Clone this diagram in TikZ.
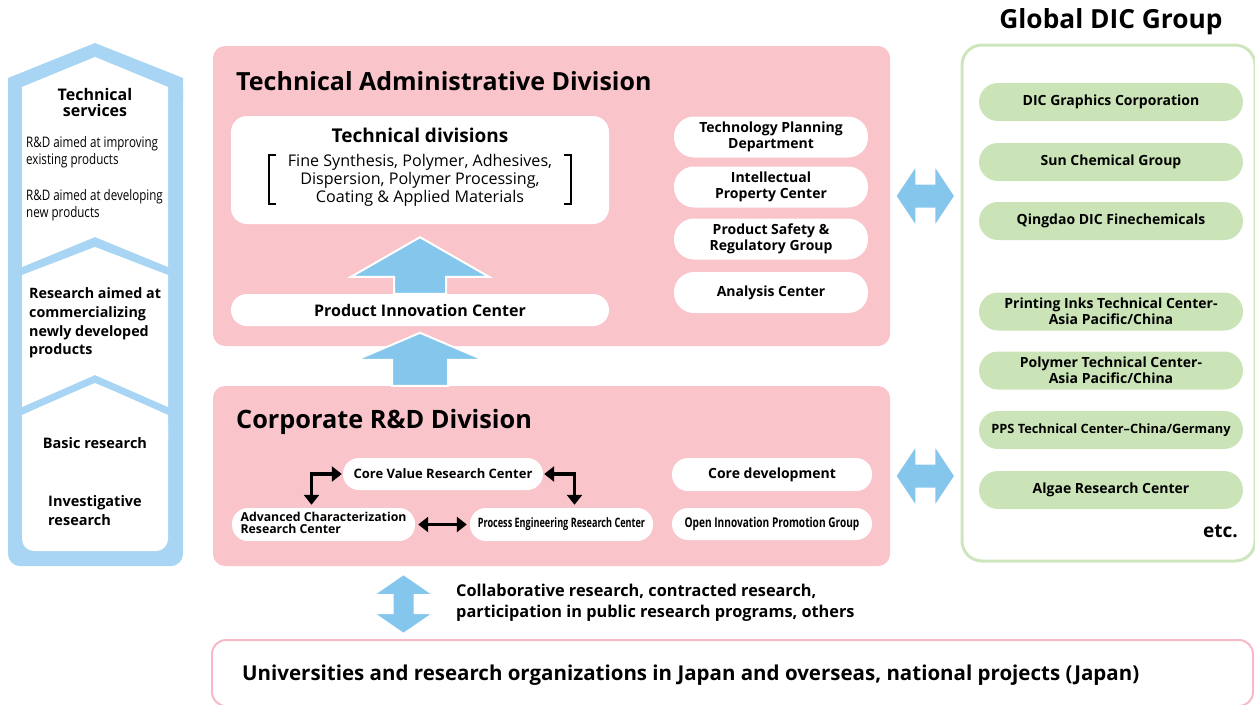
\documentclass[tikz,border=0pt]{standalone}
\usepackage{fontspec}
\setmainfont{Open Sans}
\newfontfamily\condfont[FakeStretch=0.8]{Open Sans}
\newfontfamily\condfontb[FakeStretch=0.7]{Open Sans}
\newfontfamily\condfontc[FakeStretch=0.75]{Open Sans}
\usetikzlibrary{arrows.meta,calc}
\definecolor{pinkfill}{RGB}{250,196,203}
\definecolor{pinkline}{RGB}{247,185,198}
\definecolor{colblue}{RGB}{168,213,243}
\definecolor{arrblue}{RGB}{133,198,237}
\definecolor{grnfill}{RGB}{202,228,183}
\definecolor{grnline}{RGB}{206,230,189}
\newcommand{\fs}[2]{\fontsize{#1}{#2}\selectfont}
\begin{document}
\begin{tikzpicture}[x=1pt,y=-1pt,
  pinkbox/.style={fill=pinkfill, rounded corners=12, inner sep=0},
  wnode/.style={fill=white, inner sep=0, align=center},
  gnode/.style={fill=grnfill, inner sep=0, align=center, rounded corners=19, minimum width=264, minimum height=38, font=\fs{14}{16}\bfseries},
  rpill/.style={wnode, rounded corners=20, minimum width=194, minimum height=41, font=\fs{14}{16}\bfseries},
  bpill/.style={wnode, rounded corners=16, minimum height=32},
  blk/.style={line width=3.8, {Triangle[length=10,width=15]}-{Triangle[length=10,width=15]}},
  blockarrow/.style={fill=arrblue, draw=white, line width=2, line join=miter},
  dblh/.pic={\path[blockarrow] (-30,0) -- (-9,-31.5) -- (-9,-12.5) -- (9,-12.5) -- (9,-31.5) -- (30,0) -- (9,31.5) -- (9,12.5) -- (-9,12.5) -- (-9,31.5) -- cycle;},
  dblv/.pic={\path[blockarrow] (0,-30) -- (30.5,-9) -- (11,-9) -- (11,9) -- (30.5,9) -- (0,30) -- (-30.5,9) -- (-11,9) -- (-11,-9) -- (-30.5,-9) -- cycle;},
  ttl/.style={anchor=west, inner sep=0, font=\fs{25}{28}\bfseries},
  ltxt/.style={inner sep=0, align=left}
]
\useasboundingbox (0,0) rectangle (1255,704);

% ---------- left column ----------
\fill[colblue, rounded corners=12] (8,78) rectangle (183,566);
\fill[colblue] (8,78) -- (95,43) -- (183,78) -- (183,100) -- (8,100) -- cycle;
\fill[white] (22,87) -- (95,57) -- (168,87) -- (168,267) -- (95,237) -- (22,267) -- cycle;
\fill[white] (22,275) -- (95,247) -- (168,275) -- (168,407) -- (95,375) -- (22,407) -- cycle;
\fill[white, rounded corners=12] (22,415) -- (95,383) -- (168,415) -- (168,551) -- (22,551) -- cycle;
\fill[white] (22,415) -- (95,383) -- (168,415) -- (168,440) -- (22,440) -- cycle;

\node[ltxt, align=center, font=\fs{16}{16}\bfseries] (ts) at (95,102) {Technical\\services};
\node[ltxt, anchor=west, font=\fs{14.5}{17}\condfont] (rdi) at (26,152) {R\&D aimed at improving\\existing products};
\node[ltxt, anchor=west, font=\fs{14.5}{17}\condfont] (rdd) at (26,205) {R\&D aimed at developing\\new products};
\node[ltxt, anchor=west, font=\fs{14.3}{18.7}\bfseries] (rac) at (29,323) {Research aimed at\\commercializing\\newly developed\\products};
\node[ltxt, font=\fs{14.5}{18}\bfseries] (br) at (95,443) {Basic research};
\node[ltxt, anchor=west, font=\fs{14.5}{19}\bfseries] (ir) at (48,511) {Investigative\\research};

% ---------- pink divisions ----------
\node[pinkbox, minimum width=677, minimum height=300] (tad) at (551.5,196) {};
\node[pinkbox, minimum width=677, minimum height=180] (crd) at (551.5,476) {};
\node[ttl] at (236,81) {Technical Administrative Division};
\node[ttl, font=\fs{25.3}{28}\bfseries] at (236,422) {Corporate R\&D Division};

% technical administrative nodes
\node[wnode, rounded corners=16, minimum width=378, minimum height=108] (tdiv) at (420,170) {};
\node[inner sep=0, font=\fs{19}{22}\bfseries] at (420,135) {Technical divisions};
\node[inner sep=0, align=center, font=\fs{16.1}{18}] at (420,180) {Fine Synthesis, Polymer, Adhesives,\\Dispersion, Polymer Processing,\\Coating \& Applied Materials};
\draw[line width=1.3] (276,155) -- (269,155) -- (269,204) -- (276,204);
\draw[line width=1.3] (564,155) -- (571,155) -- (571,204) -- (564,204);
\node[bpill, minimum width=378, font=\fs{16}{18}\bfseries] (pic) at (420,310) {Product Innovation Center};

\node[rpill] (tpd) at (771,137) {Technology Planning\\Department};
\node[rpill] (ipc) at (771,187) {Intellectual\\Property Center};
\node[rpill] (psr) at (771,239) {Product Safety \&\\Regulatory Group};
\node[rpill] (ac) at (771,292.5) {Analysis Center};

% corporate R&D nodes
\node[bpill, minimum width=200, font=\fs{13}{16}\bfseries] (cv) at (443,474) {Core Value Research Center};
\node[bpill, minimum width=183, minimum height=33, font=\fs{12.3}{13}\bfseries] (acrc) at (323.5,524.5) {\begin{tabular}{@{}l@{}}Advanced Characterization\\[-1.5pt]Research Center\end{tabular}};
\node[bpill, minimum width=183, minimum height=33, font=\fs{13}{16}\condfontb\bfseries] (perc) at (561.5,524.5) {Process Engineering Research Center};
\node[bpill, minimum width=200, minimum height=33, font=\fs{14}{16}\bfseries] (cd) at (772,474.5) {Core development};
\node[bpill, minimum width=200, font=\fs{13.5}{16}\condfontc\bfseries] (oipg) at (772,524) {Open Innovation Promotion Group};

\draw[blk, shorten <=1, shorten >=3] (cv.west) -| ($(acrc.north)+(-12,0)$);
\draw[blk, shorten <=1, shorten >=3] (cv.east) -| ($(perc.north)+(13,0)$);
\draw[blk, shorten <=3, shorten >=3] (acrc.east) -- (perc.west);

% block arrows between divisions
\path[blockarrow] ($(pic.north)+(-26,0)$) -- ($(pic.north)+(-26,-17)$) -- ($(pic.north)+(-69,-17)$) -- ($(tdiv.south)+(0,13)$) -- ($(pic.north)+(69,-17)$) -- ($(pic.north)+(26,-17)$) -- ($(pic.north)+(26,0)$) -- cycle;
\coordinate (cb) at (pic.south |- crd.north);
\path[blockarrow] ($(cb)+(-28,0)$) -- ($(cb)+(-28,-26)$) -- ($(cb)+(-63.5,-26)$) -- ($(cb)+(0,-53)$) -- ($(cb)+(63.5,-26)$) -- ($(cb)+(28,-26)$) -- ($(cb)+(28,0)$) -- cycle;

% ---------- global DIC group ----------
\node[draw=grnline, line width=3, rounded corners=20, minimum width=293, minimum height=516, inner sep=0] (grp) at (1108.5,303) {};
\node[inner sep=0, font=\fs{26.3}{28}\bfseries] (gtitle) at (1111,22) {Global DIC Group};
\node[gnode] (g1) at (1111,102) {DIC Graphics Corporation};
\node[gnode] (g2) at (1111,162) {Sun Chemical Group};
\node[gnode] (g3) at (1111,221) {Qingdao DIC Finechemicals};
\node[gnode] (g4) at (1111,311.5) {Printing Inks Technical Center-\\Asia Pacific/China};
\node[gnode] (g5) at (1111,370.5) {Polymer Technical Center-\\Asia Pacific/China};
\node[gnode, font=\fs{12.8}{16}\bfseries] (g6) at (1111,430) {PPS Technical Center--China/Germany};
\node[gnode] (g7) at (1111,490) {Algae Research Center};
\node[inner sep=0, anchor=east, font=\fs{19}{22}\bfseries] (etc) at (1238,531) {etc.};

\pic at ($(tad.east)!0.5!(tad.east -| grp.west)$) {dblh};
\pic at ($(crd.east)!0.5!(crd.east -| grp.west)$) {dblh};

% ---------- bottom ----------
\node[draw=pinkline, fill=white, line width=2, rounded corners=14, minimum width=1041, minimum height=66, inner sep=0] (univ) at (732.5,673) {};
\node[inner sep=0, anchor=west, font=\fs{20.5}{22}\bfseries] at (242,675) {Universities and research organizations in Japan and overseas, national projects (Japan)};
\pic at (403.5,604) {dblv};
\node[ltxt, anchor=west, font=\fs{16.3}{21}\bfseries] (collab) at (456,603) {Collaborative research, contracted research,\\participation in public research programs, others};
\end{tikzpicture}
\end{document}
